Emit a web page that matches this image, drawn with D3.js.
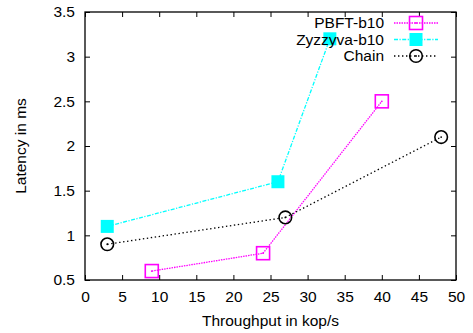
<!DOCTYPE html>
<html>
<head>
<meta charset="utf-8">
<script src="https://cdn.jsdelivr.net/npm/d3@7"></script>
<style>
  body { margin: 0; background: #fff; }
  svg { display: block; font-family: "Liberation Sans", Arial, sans-serif; }
  .axis path, .axis line { stroke: #000; }
</style>
</head>
<body>
<svg id="chart" width="473" height="333"></svg>
<script>
// values
var seriesNames = ["PBFT-b10", "Zyzzyva-b10", "Chain"];
var pbft = [[9, 0.6], [24, 0.8], [40, 2.5]];
var zyzzyva = [[3, 1.1], [26, 1.6], [33, 3.2]];
var chain = [[3, 0.9], [27, 1.2], [48, 2.1]];
var xTicks = [0, 5, 10, 15, 20, 25, 30, 35, 40, 45, 50];
var yTicks = [0.5, 1, 1.5, 2, 2.5, 3, 3.5];

var width = 473, height = 333;
var margin = {top: 12, right: 17, bottom: 53, left: 85};
var fontSize = "15.5px";

var svg = d3.select("#chart");

var x = d3.scaleLinear().domain([0, 50]).range([margin.left, width - margin.right]);
var y = d3.scaleLinear().domain([0.5, 3.5]).range([height - margin.bottom, margin.top]);

var fmt = function(d) { return String(d); };

// bottom axis with inward ticks
svg.append("g")
    .attr("class", "axis")
    .attr("transform", "translate(0," + y(0.5) + ")")
    .call(d3.axisBottom(x).tickValues(xTicks).tickFormat(fmt).tickSize(-5).tickPadding(11))
    .call(function(g) { g.select(".domain").remove(); })
    .selectAll("text").style("font-size", fontSize).attr("fill", "#000");

svg.append("g")
    .attr("class", "axis")
    .attr("transform", "translate(" + x(0) + ",0)")
    .call(d3.axisLeft(y).tickValues(yTicks).tickFormat(fmt).tickSize(-5).tickPadding(10))
    .call(function(g) { g.select(".domain").remove(); })
    .selectAll("text").style("font-size", fontSize).attr("fill", "#000");

// mirror ticks
svg.append("g")
    .attr("class", "axis")
    .attr("transform", "translate(0," + y(3.5) + ")")
    .call(d3.axisTop(x).tickValues(xTicks).tickFormat("").tickSize(-5))
    .call(function(g) { g.select(".domain").remove(); });

svg.append("g")
    .attr("class", "axis")
    .attr("transform", "translate(" + x(50) + ",0)")
    .call(d3.axisRight(y).tickValues(yTicks).tickFormat("").tickSize(-5))
    .call(function(g) { g.select(".domain").remove(); });

// frame
svg.append("rect")
    .attr("x", x(0)).attr("y", y(3.5))
    .attr("width", x(50) - x(0)).attr("height", y(0.5) - y(3.5))
    .attr("fill", "none").attr("stroke", "#000").attr("stroke-width", 1.3);

// axis titles
svg.append("text")
    .attr("x", (x(0) + x(50)) / 2)
    .attr("y", 326)
    .attr("text-anchor", "middle")
    .style("font-size", fontSize)
    .text("Throughput in kop/s");

svg.append("text")
    .attr("transform", "translate(26," + ((y(0.5) + y(3.5)) / 2) + ") rotate(-90)")
    .attr("text-anchor", "middle")
    .style("font-size", fontSize)
    .text("Latency in ms");

var styles = [
  {data: pbft, color: "#ff00ff", dash: "1.5,1", marker: "openSquare"},
  {data: zyzzyva, color: "#00ffff", dash: "4,1.5,1.2,1.5", marker: "filledSquare"},
  {data: chain, color: "#000", dash: "1.4,2.6", marker: "circle"}
];

var line = d3.line()
    .x(function(d) { return x(d[0]); })
    .y(function(d) { return y(d[1]); });

function drawMarker(g, kind, color, cx, cy) {
  if (kind == "openSquare") {
    g.append("rect").attr("x", cx - 6.5).attr("y", cy - 6.5).attr("width", 13).attr("height", 13)
      .attr("fill", "none").attr("stroke", color).attr("stroke-width", 1.6);
    g.append("circle").attr("cx", cx).attr("cy", cy).attr("r", 0.9).attr("fill", color);
  } else if (kind == "filledSquare") {
    g.append("rect").attr("x", cx - 6.5).attr("y", cy - 6.5).attr("width", 13).attr("height", 13)
      .attr("fill", color);
  } else {
    g.append("circle").attr("cx", cx).attr("cy", cy).attr("r", 6.3)
      .attr("fill", "none").attr("stroke", color).attr("stroke-width", 1.6);
    g.append("circle").attr("cx", cx).attr("cy", cy).attr("r", 0.9).attr("fill", color);
  }
}

styles.forEach(function(s) {
  svg.append("path")
    .datum(s.data)
    .attr("d", line)
    .attr("fill", "none")
    .attr("stroke", s.color)
    .attr("stroke-width", 1.3)
    .attr("stroke-dasharray", s.dash);
  var g = svg.append("g");
  s.data.forEach(function(d) { drawMarker(g, s.marker, s.color, x(d[0]), y(d[1])); });
});

// legend
var legend = svg.append("g");
styles.forEach(function(s, i) {
  var ly = 23 + i * 16.5;
  legend.append("text")
    .attr("x", 384).attr("y", ly).attr("dy", "0.35em")
    .attr("text-anchor", "end")
    .style("font-size", fontSize)
    .text(seriesNames[i]);
  legend.append("line")
    .attr("x1", 394).attr("x2", 438).attr("y1", ly).attr("y2", ly)
    .attr("stroke", s.color).attr("stroke-width", 1.3)
    .attr("stroke-dasharray", s.dash);
  drawMarker(legend, s.marker, s.color, 416, ly);
});
</script>
</body>
</html>
